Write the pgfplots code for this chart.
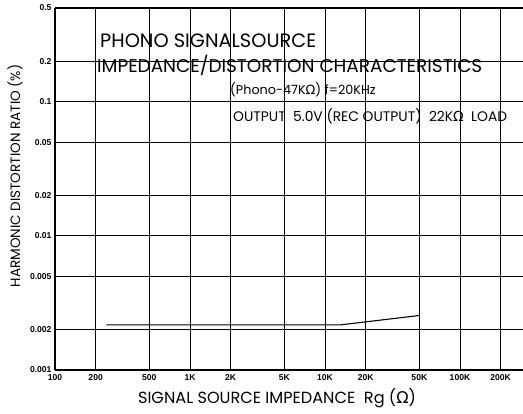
\documentclass[border=0pt]{standalone}
\usepackage{pgfplots}
\pgfplotsset{compat=1.18}
\usepackage{fontspec}
\setmainfont{Poppins}
\newfontfamily\dv{DejaVu Sans}
\newfontfamily\tk{Liberation Sans}
\newcommand{\Om}{{\dv Ω}}
\begin{document}
\begin{tikzpicture}
\begin{axis}[name=ax, xmode=log, ymode=log, scale only axis,
  width=468bp, height=362bp,
  xmin=100, xmax=293000, ymin=0.001, ymax=0.5,
  axis x line*=box, axis y line*=left,
  /pgf/number format/assume math mode=true,
  xtick={100,200,500,1000,2000,5000,10000,20000,50000,100000,200000},
  xticklabels={\textbf{100},\textbf{200},\textbf{500},\textbf{1K},\textbf{2K},\textbf{5K},\textbf{10K},\textbf{20K},\textbf{50K},\textbf{100K},\textbf{200K}},
  ytick={0.001,0.002,0.005,0.01,0.02,0.05,0.1,0.2,0.5},
  yticklabels={\textbf{0.001},\textbf{0.002},\textbf{0.005},\textbf{0.01},\textbf{0.02},\textbf{0.05},\textbf{0.1},\textbf{0.2},\textbf{0.5}},
  minor xtick={}, minor ytick={},
  grid=major, major grid style={black, line width=0.9pt},
  tick style={draw=none},
  ticklabel style={font=\tk\bfseries\fontsize{8.6}{8.6}\selectfont},
  xticklabel style={yshift=-1bp},
  axis line style={line width=1.4pt},
]
\addplot[black, line width=1.1pt] coordinates {(240,0.00217) (13000,0.00217) (50000,0.00255)};
\end{axis}
\node[anchor=base west, inner sep=0pt, font=\fontsize{19.4}{19.4}\selectfont] at ([shift={(45bp,322bp)}]ax.south west) {PHONO SIGNALSOURCE};
\node[anchor=base west, inner sep=0pt, font=\fontsize{18.5}{18.5}\selectfont] at ([shift={(42bp,297bp)}]ax.south west) {IMPEDANCE/DISTORTION CHARACTERISTICS};
\node[anchor=base west, inner sep=0pt, font=\fontsize{12.8}{12.8}\selectfont] at ([shift={(175bp,275bp)}]ax.south west) {(Phono-47K\Om) f=20KHz};
\node[anchor=base west, inner sep=0pt, font=\fontsize{13.9}{13.9}\selectfont] at ([shift={(178bp,248bp)}]ax.south west) {OUTPUT\ \ 5.0V (REC OUTPUT)\ \ 22K\Om\ \ LOAD};
\node[anchor=base, inner sep=0pt, font=\fontsize{16.2}{16.2}\selectfont] at ([shift={(222bp,-33bp)}]ax.south west) {SIGNAL SOURCE IMPEDANCE\ \ Rg (\Om)};
\node[rotate=90, anchor=center, inner sep=0pt, font=\fontsize{13.6}{13.6}\selectfont] at ([shift={(-40bp,194bp)}]ax.south west) {HARMONIC DISTORTION RATIO (\%)};
\pgfresetboundingbox
\path ([shift={(-55bp,-44bp)}]ax.south west) rectangle ([shift={(0bp,8bp)}]ax.north east);
\end{tikzpicture}
\end{document}
